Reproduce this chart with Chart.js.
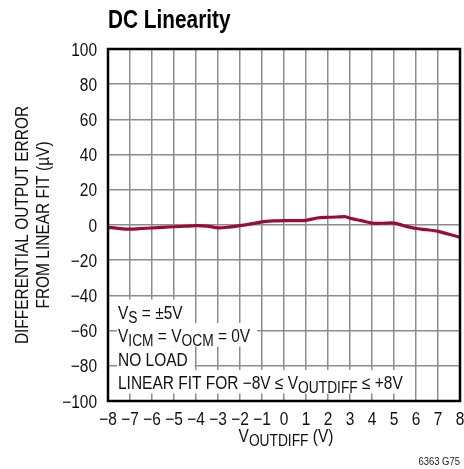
<!DOCTYPE html>
<html>
<head>
<meta charset="utf-8">
<script src="https://cdn.jsdelivr.net/npm/chart.js@4/dist/chart.umd.min.js"></script>
<style>
  html, body { margin: 0; padding: 0; background: #fff; }
  #wrap { width: 464px; height: 469px; }
</style>
</head>
<body>
<div id="wrap"><canvas id="dc_linearity_chart" width="464" height="469"></canvas></div>
<script>
// Values
const voltages = [-8, -7.5, -7, -6.5, -6, -5.5, -5, -4.5, -4, -3.5, -3, -2.5, -2, -1.5, -1, -0.5, 0, 0.5, 1, 1.5, 2, 2.5, 2.8, 3, 3.5, 4, 4.5, 5, 5.5, 6, 6.5, 7, 7.5, 8];
const errorsUV = [-1.3, -2.0, -2.4, -2.0, -1.7, -1.3, -1.0, -0.7, -0.4, -0.6, -1.6, -1.2, -0.4, 0.6, 1.8, 2.3, 2.5, 2.5, 2.6, 4.0, 4.4, 4.6, 4.7, 3.8, 2.5, 1.1, 1.0, 1.1, -0.6, -2.0, -2.7, -3.6, -5.3, -7.0];
const xTicks = [-8, -7, -6, -5, -4, -3, -2, -1, 0, 1, 2, 3, 4, 5, 6, 7, 8];
const yTicks = [-100, -80, -60, -40, -20, 0, 20, 40, 60, 80, 100];

const FONT = '"Liberation Sans", Arial, sans-serif';
const NARROW = 0.86;   // squeeze to look like the condensed face of the original
const SUB = 0.88;      // subscript size relative to the text

function minus(v) {
    return String(v).replace('-', '\u2212');
}

// single string, horizontally condensed
function narrowText(ctx, text, x, y, size, align, bold, squeeze) {
    ctx.save();
    ctx.font = (bold ? 'bold ' : '') + size + 'px ' + FONT;
    ctx.textAlign = align;
    ctx.textBaseline = 'alphabetic';
    ctx.translate(x, y);
    ctx.scale(squeeze || NARROW, 1);
    ctx.fillText(text, 0, 0);
    ctx.restore();
}

function richWidth(ctx, parts, size) {
    let total = 0;
    parts.forEach(function(p) {
        ctx.font = (p.sub ? Math.round(size * SUB) : size) + 'px ' + FONT;
        total += ctx.measureText(p.t).width * NARROW;
    });
    return total;
}

// run of text pieces, some of them subscripts
function drawRich(ctx, parts, x, y, size, withBox) {
    const total = richWidth(ctx, parts, size);
    if (withBox) {
        ctx.fillStyle = '#fff';
        ctx.fillRect(x - 1, y - 19, total + 8, 23.5);
    }
    ctx.fillStyle = '#111';
    let cx = x;
    parts.forEach(function(p) {
        const s = p.sub ? Math.round(size * SUB) : size;
        narrowText(ctx, p.t, cx, p.sub ? y + 4 : y, s, 'left', false);
        ctx.font = s + 'px ' + FONT;
        cx += ctx.measureText(p.t).width * NARROW;
    });
}

const decorations = {
    id: 'decorations',
    afterDatasetsDraw(chart) {
        const ctx = chart.ctx;
        const a = chart.chartArea;
        const xs = chart.scales.x;
        const ys = chart.scales.y;
        ctx.save();

        // conditions block, bottom left of the plot
        const notes = [
            [{t: 'V'}, {t: 'S', sub: true}, {t: ' = ±5V'}],
            [{t: 'V'}, {t: 'ICM', sub: true}, {t: ' = V'}, {t: 'OCM', sub: true}, {t: ' = 0V'}],
            [{t: 'NO LOAD'}],
            [{t: 'LINEAR FIT FOR \u22128V \u2264 V'}, {t: 'OUTDIFF', sub: true}, {t: ' \u2264 +8V'}]
        ];
        notes.forEach(function(n, i) {
            drawRich(ctx, n, a.left + 10, a.bottom - 12 - (3 - i) * 23.5, 18, true);
        });

        // plot frame
        ctx.strokeStyle = '#000';
        ctx.lineWidth = 2.5;
        ctx.strokeRect(a.left, a.top, a.right - a.left, a.bottom - a.top);

        // tick labels
        ctx.fillStyle = '#111';
        xTicks.forEach(function(v) {
            narrowText(ctx, minus(v), xs.getPixelForValue(v), a.bottom + 24, 18, 'center', false);
        });
        yTicks.forEach(function(v) {
            narrowText(ctx, minus(v), a.left - 11, ys.getPixelForValue(v) + 6.5, 18, 'right', false);
        });

        // title
        ctx.fillStyle = '#000';
        narrowText(ctx, 'DC Linearity', a.left, 28, 26, 'left', true, 0.8);

        // x axis title
        const xt = [{t: 'V'}, {t: 'OUTDIFF', sub: true}, {t: ' (V)'}];
        drawRich(ctx, xt, (a.left + a.right) / 2 + 2 - richWidth(ctx, xt, 18) / 2, 442, 18, false);

        // y axis title, two rotated lines
        ctx.save();
        ctx.translate(28, (a.top + a.bottom) / 2);
        ctx.rotate(-Math.PI / 2);
        ctx.fillStyle = '#111';
        narrowText(ctx, 'DIFFERENTIAL OUTPUT ERROR', 0, 0, 18, 'center', false);
        narrowText(ctx, 'FROM LINEAR FIT (\u00b5V)', 0, 21, 18, 'center', false);
        ctx.restore();

        // figure code
        ctx.fillStyle = '#222';
        narrowText(ctx, '6363 G75', a.right, 465, 11, 'right', false);

        ctx.restore();
    }
};

const ctx = document.getElementById('dc_linearity_chart').getContext('2d');
new Chart(ctx, {
    type: 'line',
    data: {
        datasets: [{
            data: voltages.map(function(v, i) { return {x: v, y: errorsUV[i]}; }),
            borderColor: '#9c0c32',
            borderWidth: 3.2,
            pointRadius: 0,
            tension: 0.3,
            fill: false
        }]
    },
    options: {
        responsive: false,
        animation: false,
        layout: { padding: { top: 49, right: 4, left: 0, bottom: 0 } },
        plugins: {
            legend: { display: false },
            tooltip: { enabled: false }
        },
        scales: {
            x: {
                type: 'linear',
                min: -8,
                max: 8,
                afterBuildTicks: function(scale) {
                    scale.ticks = xTicks.map(function(v) { return {value: v}; });
                },
                afterFit: function(scale) { scale.height = 68; },
                grid: { color: '#8c8c8c', lineWidth: 1.5, drawTicks: false },
                border: { display: false },
                ticks: { display: false }
            },
            y: {
                min: -100,
                max: 100,
                afterBuildTicks: function(scale) {
                    scale.ticks = yTicks.map(function(v) { return {value: v}; });
                },
                afterFit: function(scale) { scale.width = 108; },
                grid: { color: '#8c8c8c', lineWidth: 1.5, drawTicks: false },
                border: { display: false },
                ticks: { display: false }
            }
        }
    },
    plugins: [decorations]
});
</script>
</body>
</html>
